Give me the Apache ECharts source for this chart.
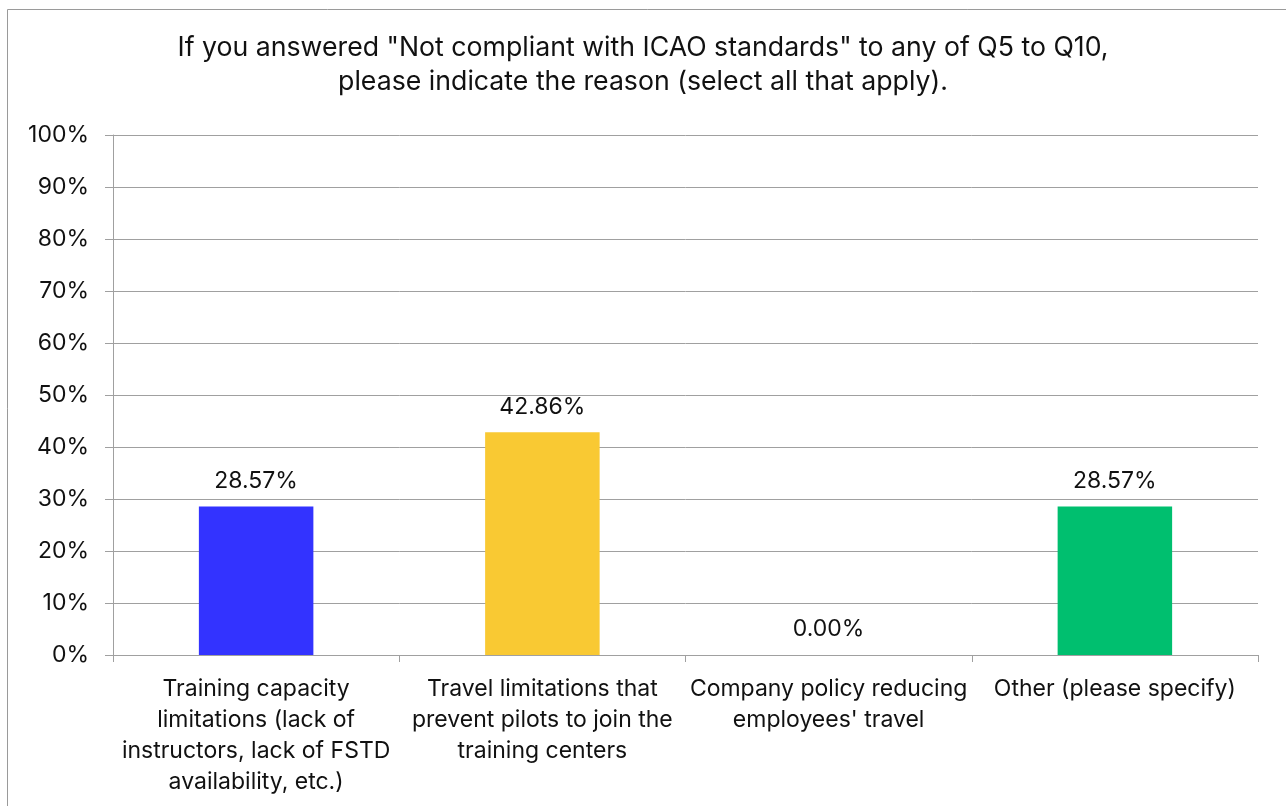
<!DOCTYPE html>
<html>
<head>
<meta charset="utf-8">
<script src="https://cdn.jsdelivr.net/npm/echarts@6/dist/echarts.min.js"></script>
<style>
  html, body { margin: 0; padding: 0; background: #fff; }
  #chart { width: 1286px; height: 806px; }
</style>
</head>
<body>
<div id="chart"></div>
<script>
// Survey answers: share of respondents selecting each reason
const titleLines = [
  'If you answered "Not compliant with ICAO standards" to any of Q5 to Q10,',
  'please indicate the reason (select all that apply).'
];
const categories = [
  'Training capacity\nlimitations (lack of\ninstructors, lack of FSTD\navailability, etc.)',
  'Travel limitations that\nprevent pilots to join the\ntraining centers',
  'Company policy reducing\nemployees\' travel',
  'Other (please specify)'
];
const shares = [28.57, 42.86, 0.00, 28.57];
const barColors = ['#3333FF', '#F9C933', '#3333FF', '#00BF6F'];
const yTicks = [0, 10, 20, 30, 40, 50, 60, 70, 80, 90, 100];

const FONT = 'Inter';
const chart = echarts.init(document.getElementById('chart'), null, { renderer: 'canvas' });

chart.setOption({
  animation: false,
  backgroundColor: '#ffffff',
  graphic: [{
    type: 'rect',
    shape: { x: 7.5, y: 9.5, width: 1300, height: 820 },
    style: { fill: 'none', stroke: '#9a9a9a', lineWidth: 1 },
    silent: true
  }],
  title: {
    text: titleLines.join('\n'),
    left: 'center',
    top: 26,
    textStyle: {
      fontFamily: FONT,
      fontSize: 26.7,
      fontWeight: 'normal',
      color: '#111',
      lineHeight: 34
    }
  },
  grid: { left: 113, right: 28, top: 135, bottom: 151, containLabel: false },
  xAxis: {
    type: 'category',
    data: categories,
    axisLine: { show: true, lineStyle: { color: '#a0a0a0', width: 1 } },
    axisTick: { show: true, alignWithLabel: false, length: 7, lineStyle: { color: '#a0a0a0' } },
    axisLabel: {
      interval: 0,
      margin: 19,
      fontFamily: FONT,
      fontSize: 23,
      lineHeight: 31,
      color: '#111',
      align: 'center'
    },
    splitLine: { show: false }
  },
  yAxis: {
    type: 'value',
    min: yTicks[0],
    max: yTicks[yTicks.length - 1],
    interval: 10,
    axisLine: { show: true, lineStyle: { color: '#a0a0a0', width: 1 } },
    axisTick: { show: true, inside: false, length: 8, lineStyle: { color: '#a0a0a0' } },
    axisLabel: {
      margin: 24,
      fontFamily: FONT,
      fontSize: 23,
      color: '#111',
      formatter: v => v + '%'
    },
    splitLine: { show: true, lineStyle: { color: '#a0a0a0', width: 1 } }
  },
  series: [{
    type: 'bar',
    data: shares.map((v, i) => ({ value: v, itemStyle: { color: barColors[i] } })),
    barWidth: '40%',
    label: {
      show: true,
      position: 'top',
      distance: 14,
      fontFamily: FONT,
      fontSize: 23,
      color: '#111',
      formatter: p => p.value.toFixed(2) + '%'
    }
  }]
});
</script>
</body>
</html>
